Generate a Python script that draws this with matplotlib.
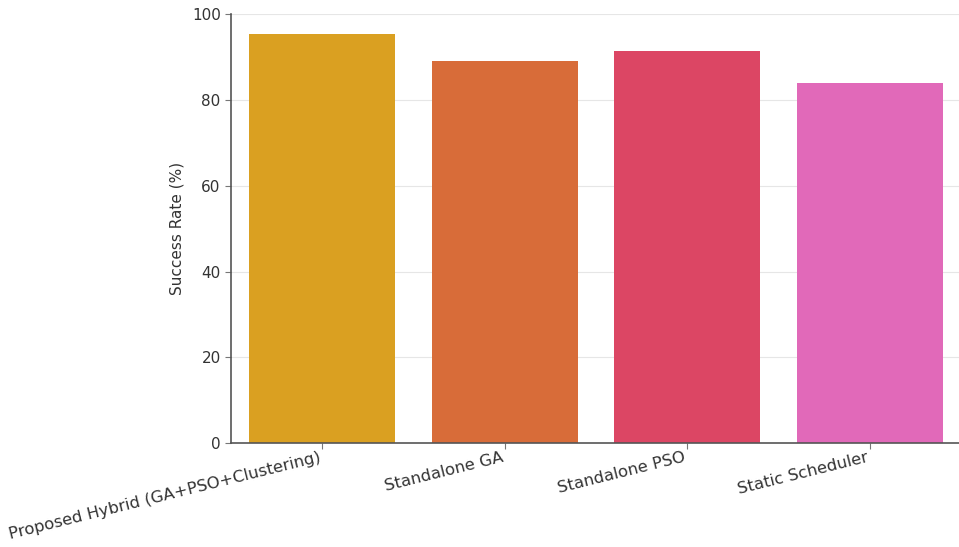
import matplotlib
matplotlib.use("Agg")
import matplotlib.pyplot as plt

# chart data
methods = ["Proposed Hybrid (GA+PSO+Clustering)", "Standalone GA",
           "Standalone PSO", "Static Scheduler"]
success_rate = [95.5, 89, 91.5, 84]
bar_colors = ["#DAA021", "#D86C39", "#DC4664", "#E169B9"]

TEXT = "#333333"
GRID = "#E6E6E6"

fig = plt.figure(figsize=(9.59, 5.47), dpi=100, facecolor="white")
ax = fig.add_axes([0.241, 0.19, 0.761, 0.784])

x = range(len(methods))
ax.bar(x, success_rate, width=0.8, color=bar_colors, zorder=2)

ax.set_xlim(-0.5, 3.5)
ax.set_ylim(0, 100)
ax.set_yticks([0, 20, 40, 60, 80, 100])
ax.set_xticks(list(x))
ax.set_xticklabels(methods, rotation=14, ha="right")
ax.set_ylabel("Success Rate (%)", fontsize=11, color=TEXT, labelpad=5)

ax.yaxis.grid(True, color=GRID, linewidth=0.8, zorder=0)
ax.set_axisbelow(True)
for side in ["top", "right"]:
    ax.spines[side].set_visible(False)
for side in ["left", "bottom"]:
    ax.spines[side].set_color("#555555")
    ax.spines[side].set_linewidth(1.2)
ax.tick_params(axis="both", colors=TEXT, length=4, color="#777777")
ax.tick_params(axis="y", labelsize=11)
ax.tick_params(axis="x", labelsize=11.8, pad=1)

fig.savefig("out.png", dpi=100, facecolor="white")
